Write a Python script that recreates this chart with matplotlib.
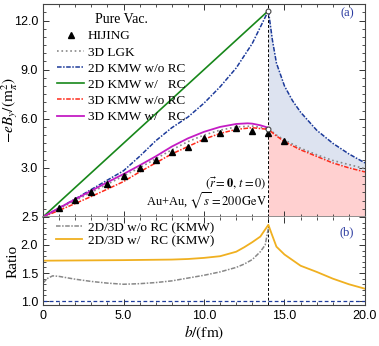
import numpy as np
import matplotlib
matplotlib.use('Agg')
import matplotlib.pyplot as plt
from matplotlib.ticker import MultipleLocator, FormatStrFormatter

plt.rcParams['font.family'] = 'serif'
plt.rcParams['font.serif'] = ['Liberation Serif']
plt.rcParams['mathtext.fontset'] = 'stix'

# --- data ---
b_in = [0, 1, 2, 3, 4, 5, 6, 7, 8, 9, 10, 11, 12, 13, 14]
b_out = [14, 14.25, 14.5, 15, 15.5, 16, 17, 18, 19, 20]

kmw2d_norc_in = [0, 0.55, 1.1, 1.68, 2.25, 2.82, 3.7, 4.65, 5.45, 6.1, 6.95, 7.95, 9.1, 10.6, 12.6]
kmw2d_norc_out = [12.6, 10.8, 9.4, 8.0, 7.1, 6.4, 5.3, 4.5, 3.85, 3.3]

b_green = [0, 14]
kmw2d_rc = [0, 12.6]

b_mag = [0, 1, 2, 3, 4, 5, 6, 7, 8, 9, 10, 11, 12, 12.7, 13, 13.5, 14]
kmw3d_rc = [0, 0.55, 1.08, 1.6, 2.12, 2.62, 3.15, 3.7, 4.3, 4.8, 5.2, 5.5, 5.68, 5.72, 5.7, 5.6, 5.45]

kmw3d_norc_in = [0, 0.4, 0.82, 1.25, 1.7, 2.16, 2.75, 3.3, 3.85, 4.3, 4.75, 5.1, 5.35, 5.45, 5.35]
kmw3d_norc_out = [5.35, 5.15, 4.95, 4.6, 4.35, 4.1, 3.7, 3.3, 3.0, 2.75]

lgk_in = [0, 0.5, 1.0, 1.5, 2.0, 2.5, 3.0, 3.55, 4.1, 4.6, 5.0, 5.3, 5.5, 5.55, 5.4]
lgk_out = [5.4, 5.2, 5.0, 4.7, 4.45, 4.2, 3.8, 3.45, 3.2, 2.95]

b_hij = [1, 2, 3, 4, 5, 6, 7, 8, 9, 10, 11, 12, 13, 14, 15]
hijing = [0.53, 1.04, 1.51, 2.0, 2.5, 3.0, 3.45, 3.95, 4.3, 4.8, 5.1, 5.45, 5.27, 5.1, 4.65]

b_r1 = [0, 0.25, 0.6, 1, 2, 3, 4, 5, 6, 7, 8, 9, 10, 11, 12, 12.5, 13, 13.5, 13.8, 14]
ratio_norc = [1.32, 1.4, 1.45, 1.44, 1.39, 1.35, 1.32, 1.30, 1.31, 1.33, 1.36, 1.41, 1.46, 1.52, 1.6, 1.66, 1.74, 1.88, 2.0, 2.3]

b_r2 = [0, 5, 8, 9, 10, 11, 12, 12.5, 13, 13.5, 14, 14.2, 14.5, 15, 15.3, 16, 17, 18, 19, 20]
ratio_rc = [1.72, 1.73, 1.74, 1.75, 1.77, 1.8, 1.88, 1.96, 2.05, 2.15, 2.36, 2.2, 1.97, 1.83, 1.77, 1.63, 1.52, 1.4, 1.3, 1.22]

c_blue = '#1c3a9a'
c_green = '#17871a'
c_red = '#ff2a1a'
c_mag = '#c41cc4'
c_yel = '#f0b020'

fig = plt.figure(figsize=(3.79, 3.46), dpi=100)
ax1 = fig.add_axes([0.1135, 0.373, 0.8495, 0.615])
ax2 = fig.add_axes([0.1135, 0.1185, 0.8495, 0.2545], sharex=ax1)

# top panel
b_fill = np.array(b_out)
ax1.fill_between(b_fill, kmw3d_norc_out, kmw2d_norc_out, color='#dde3f0', lw=0)
ax1.fill_between(b_fill, 0, kmw3d_norc_out, color='#ffd0d0', lw=0)
ax1.axvline(14, color='k', ls='--', lw=0.7, dashes=(3, 2))

ax1.plot(b_hij, hijing, '^', color='k', ms=4, label='HIJING', zorder=5)
ax1.plot(b_in + b_out[1:], lgk_in + lgk_out[1:], ':', color='#888888', lw=1.2, label='3D LGK')
ax1.plot(b_in + b_out[1:], kmw2d_norc_in + kmw2d_norc_out[1:], '--', color=c_blue, lw=1.1,
         dashes=(3, 1, 1, 1), label='2D KMW w/o RC')
ax1.plot(b_green, kmw2d_rc, '-', color=c_green, lw=1.2, label='2D KMW w/   RC')
ax1.plot(b_in + b_out[1:], kmw3d_norc_in + kmw3d_norc_out[1:], '-.', color=c_red, lw=1.1,
         dashes=(3, 1, 1, 1), label='3D KMW w/o RC')
ax1.plot(b_mag, kmw3d_rc, '-', color=c_mag, lw=1.3, label='3D KMW w/   RC')
ax1.plot([14, 14], [kmw2d_rc[-1], kmw3d_norc_in[-1]], 'o', mfc='white', mec='#444444',
         ms=3.5, mew=0.8, zorder=6)

ax1.set_xlim(0, 20)
ax1.set_ylim(0, 13)
ax1.yaxis.set_major_locator(MultipleLocator(3))
ax1.yaxis.set_minor_locator(MultipleLocator(0.5))
ax1.yaxis.set_major_formatter(plt.FuncFormatter(lambda v, p: '' if v == 0 else '%.1f' % v))
ax1.xaxis.set_major_locator(MultipleLocator(5))
ax1.xaxis.set_minor_locator(MultipleLocator(1))
ax1.tick_params(labelbottom=False)
ax1.set_ylabel(r'$-eB_y/(\mathrm{m}_\pi^2)$', fontsize=11)
ax1.yaxis.set_label_coords(-0.072, 0.5)
leg = ax1.legend(loc='upper left', title='Pure Vac.', fontsize=9.5, title_fontsize=10,
                 frameon=False, handlelength=2.0, handletextpad=0.3, labelspacing=0.3,
                 borderaxespad=0.2, bbox_to_anchor=(0.02, 0.995))
ax1.text(13.9, 2.05, r'$(\vec{r}=\mathbf{0},\,t=0)$', ha='right', va='center', fontsize=9)
ax1.text(13.9, 1.0, r'Au+Au, $\sqrt{s}=200\,\mathrm{GeV}$', ha='right', va='center', fontsize=9)
ax1.text(0.965, 0.955, '(a)', transform=ax1.transAxes, ha='right', va='center',
         color='#2a3aa0', fontsize=9)

# bottom panel
ax2.axhline(1.0, color=c_blue, ls='--', lw=0.9, dashes=(3, 2))
ax2.axvline(14, color='k', ls='--', lw=0.7, dashes=(3, 2))
ax2.plot(b_r1, ratio_norc, '-.', color='#888888', lw=1.1, dashes=(3, 1, 1, 1),
         label='2D/3D w/o RC (KMW)')
ax2.plot(b_r2, ratio_rc, '-', color=c_yel, lw=1.3, label='2D/3D w/   RC (KMW)')
ax2.set_ylim(0.93, 2.5)
ax2.yaxis.set_major_locator(MultipleLocator(0.5))
ax2.yaxis.set_minor_locator(MultipleLocator(0.1))
ax2.yaxis.set_major_formatter(FormatStrFormatter('%.1f'))
ax2.xaxis.set_major_formatter(plt.FuncFormatter(lambda v, p: '0' if v == 0 else '%.1f' % v))
ax2.set_ylabel('Ratio', fontsize=11)
ax2.yaxis.set_label_coords(-0.072, 0.5)
ax2.set_xlabel(r'$b/(\mathrm{fm})$', fontsize=11, labelpad=1)
ax2.legend(loc='upper left', fontsize=9.5, frameon=False, handlelength=2.0, handletextpad=0.4,
           labelspacing=0.05, borderaxespad=0.1, bbox_to_anchor=(0.02, 1.02))
ax2.text(0.965, 0.83, '(b)', transform=ax2.transAxes, ha='right', va='center',
         color='#2a3aa0', fontsize=9)

for ax in (ax1, ax2):
    ax.tick_params(which='both', direction='in', top=True, right=True, colors='#333333')
    ax.tick_params(which='major', length=4, width=0.7)
    ax.tick_params(which='minor', length=2, width=0.6)
    for lab in ax.get_xticklabels() + ax.get_yticklabels():
        lab.set_fontfamily('Liberation Sans')
        lab.set_fontsize(9)
        lab.set_color('k')
    for s in ax.spines.values():
        s.set_color('#444444')
        s.set_linewidth(0.8)
ax1.spines['bottom'].set_color('#888888')
ax1.spines['bottom'].set_linewidth(1.3)
ax2.spines['top'].set_visible(False)

fig.savefig('out.png', dpi=100)
